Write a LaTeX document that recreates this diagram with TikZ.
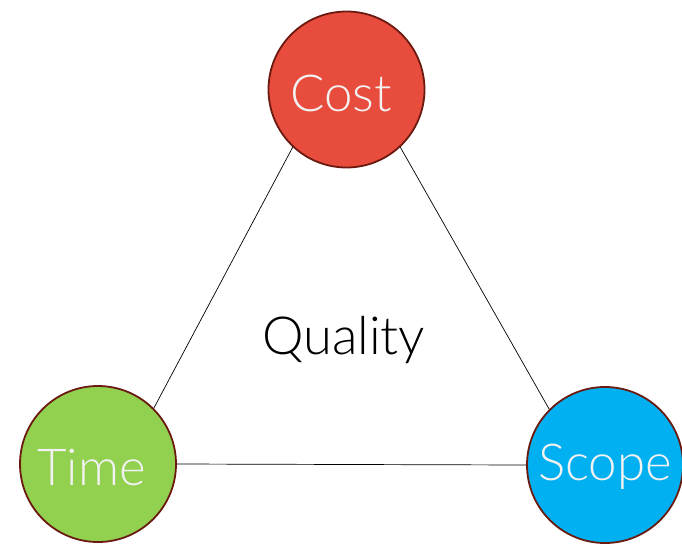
\documentclass[tikz,border=0pt]{standalone}
\usepackage{fontspec}
\setmainfont{Lato}[UprightFont = * Light]
\definecolor{costred}{HTML}{E84C3D}
\definecolor{timegreen}{HTML}{92D050}
\definecolor{scopeblue}{HTML}{00B0F0}
\definecolor{rimbrown}{HTML}{6B1A10}
\definecolor{labelwhite}{HTML}{F2F2F2}
\begin{document}
\begin{tikzpicture}[x = 1pt, y = -1pt,
        corner/.style = {circle, draw = rimbrown, line width = 1.8pt, minimum size = 156pt, inner sep = 0pt},
        cornerlabel/.style = {text = labelwhite, font = \fontsize{51}{51}\selectfont}]
        \useasboundingbox (0, 0) rectangle (682, 546);
        \node [corner, fill = costred] (cost) at (346.5, 89.5) {};
        \node [corner, fill = timegreen] (time) at (98, 464) {};
        \node [corner, fill = scopeblue] (scope) at (605, 465) {};
        \node [cornerlabel] (costlabel) at (341, 93) {Cost};
        \node [cornerlabel] (timelabel) at (91.5, 467) {Time};
        \node [cornerlabel] (scopelabel) at (605, 467) {Scope};
        \node [font = \fontsize{52.5}{52.5}\selectfont] (quality) at (343.5, 340) {Quality};
        \draw [line width = 0.7pt] (cost.227) -- (time.45);
        \draw [line width = 0.7pt] (cost.313) -- (scope.135);
        \draw [line width = 0.7pt] (time.east) -- (scope.west);
    \end{tikzpicture}
\end{document}
